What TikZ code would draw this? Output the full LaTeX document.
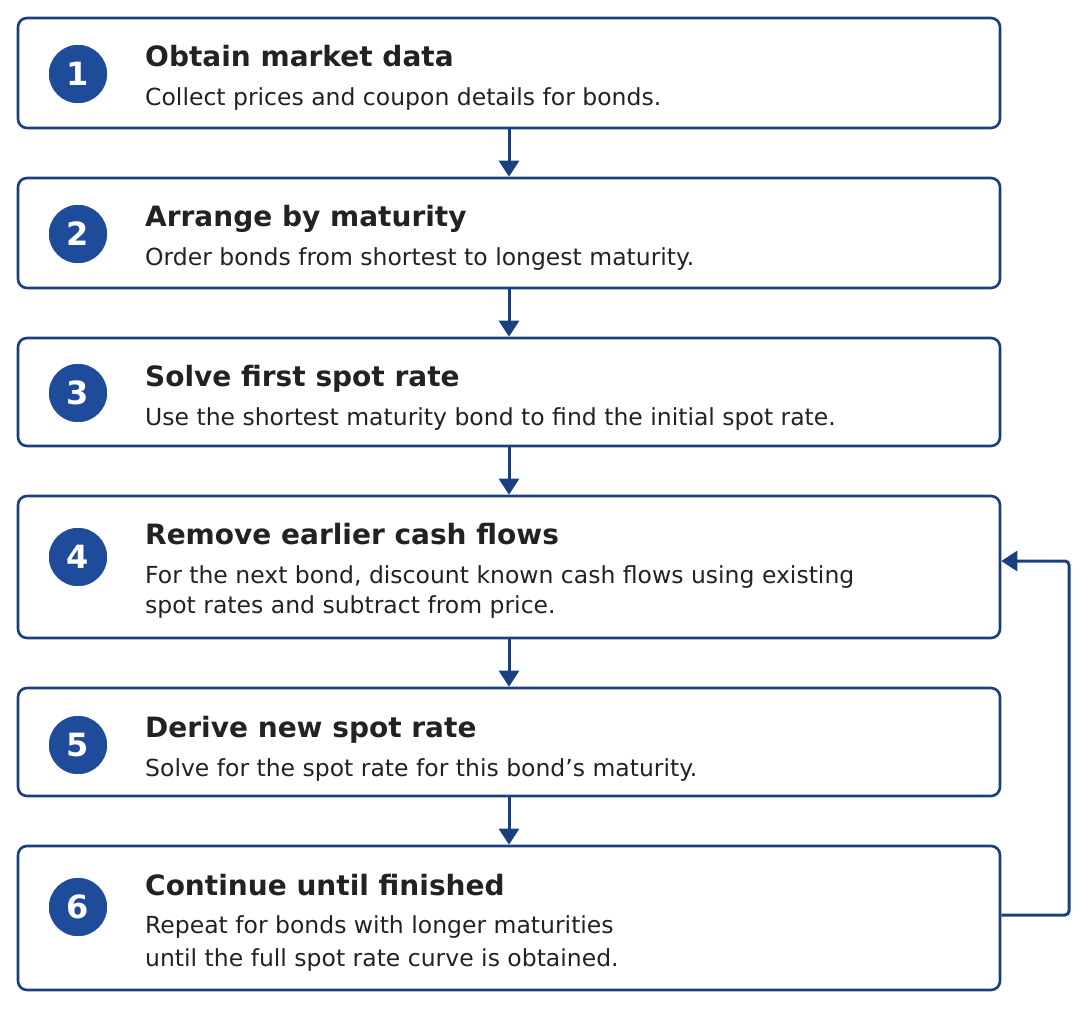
\documentclass[tikz,border=0pt]{standalone}
\usepackage{fontspec}
\setmainfont{DejaVu Sans}
\usetikzlibrary{arrows.meta}
\definecolor{navy}{HTML}{1B3F7E}
\definecolor{cfill}{HTML}{1E4C9A}
\definecolor{txt}{HTML}{222222}
\begin{document}
\begin{tikzpicture}[x=1pt,y=-1pt,
  box/.style={draw=navy,line width=2.6pt,rounded corners=9pt},
  num/.style={circle,fill=cfill,draw=white,line width=1.5pt,minimum size=60pt,inner sep=0,text=white,font=\fontsize{32}{32}\selectfont\bfseries},
  ttl/.style={anchor=base west,text=txt,font=\fontsize{28}{30}\selectfont\bfseries,inner sep=0},
  sub/.style={anchor=base west,text=txt,font=\fontsize{23.5}{28}\selectfont,inner sep=0},
  arr/.style={draw=navy,line width=3pt,-{Triangle[length=16pt,width=20pt]}}]
\useasboundingbox (0,0) rectangle (1088,1009);
\node[box,minimum width=982pt,minimum height=110pt] (b1) at (509,73) {};
\node[box,minimum width=982pt,minimum height=110pt] (b2) at (509,233) {};
\node[box,minimum width=982pt,minimum height=108pt] (b3) at (509,392) {};
\node[box,minimum width=982pt,minimum height=142pt] (b4) at (509,567) {};
\node[box,minimum width=982pt,minimum height=108pt] (b5) at (509,742) {};
\node[box,minimum width=982pt,minimum height=144pt] (b6) at (509,918) {};
\node[num] (n1) at (78,74) {1};
\node[num] (n2) at (78,234) {2};
\node[num] (n3) at (78,393) {3};
\node[num] (n4) at (78,557) {4};
\node[num] (n5) at (78,745) {5};
\node[num] (n6) at (78,907) {6};
\node[ttl] (t1) at (145,66) {Obtain market data};
\node[sub] (s1) at (145,105) {Collect prices and coupon details for bonds.};
\node[ttl] (t2) at (145,226) {Arrange by maturity};
\node[sub] (s2) at (145,265) {Order bonds from shortest to longest maturity.};
\node[ttl] (t3) at (145,386) {Solve first spot rate};
\node[sub] (s3) at (145,425) {Use the shortest maturity bond to find the initial spot rate.};
\node[ttl] (t4) at (145,544) {Remove earlier cash flows};
\node[sub] (s4a) at (145,583) {For the next bond, discount known cash flows using existing};
\node[sub] (s4b) at (145,613) {spot rates and subtract from price.};
\node[ttl] (t5) at (145,737) {Derive new spot rate};
\node[sub] (s5) at (145,776) {Solve for the spot rate for this bond’s maturity.};
\node[ttl] (t6) at (145,895) {Continue until finished};
\node[sub] (s6a) at (145,933) {Repeat for bonds with longer maturities};
\node[sub] (s6b) at (145,966) {until the full spot rate curve is obtained.};
\draw[arr] (b1.south) -- (b2.north);
\draw[arr] (b2.south) -- (b3.north);
\draw[arr] (b3.south) -- (b4.north);
\draw[arr] (b4.south) -- (b5.north);
\draw[arr] (b5.south) -- (b6.north);
\draw[arr,rounded corners=4pt] (b6.east |- 0,915) -- (1069,915) -- (1069,561) -- (b4.east |- 0,561);
\end{tikzpicture}
\end{document}
